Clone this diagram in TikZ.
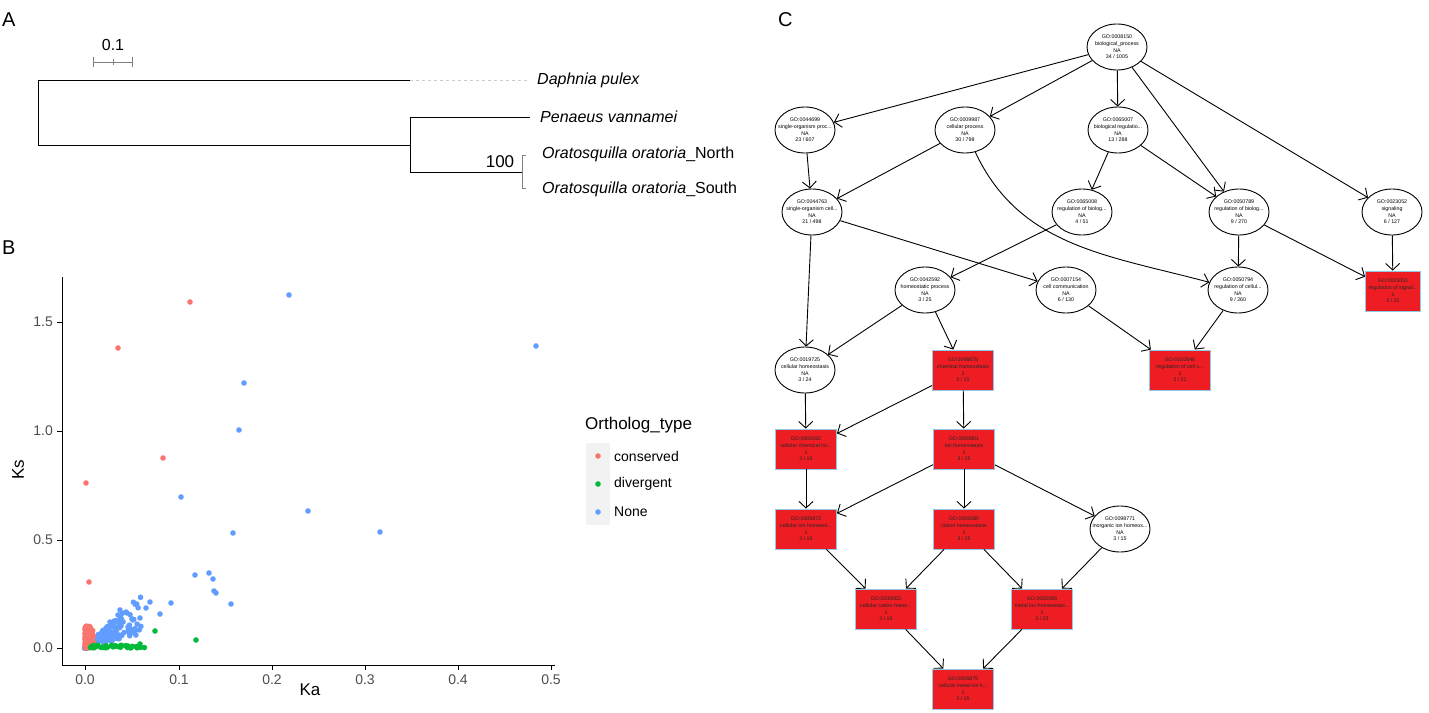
\documentclass[tikz,border=0pt]{standalone}
\usepackage{fontspec}
\setmainfont{Liberation Sans}
\usetikzlibrary{arrows.meta,shapes.geometric}
\definecolor{cred}{HTML}{F8766D}
\definecolor{cgreen}{HTML}{00BA38}
\definecolor{cblue}{HTML}{619CFF}
\definecolor{gored}{HTML}{EE1D23}
\definecolor{goblue}{HTML}{8EC9E6}
\definecolor{tickgray}{HTML}{4D4D4D}
\newcommand{\fsz}[1]{\fontsize{#1}{#1}\selectfont}
\tikzset{
  goell/.style={ellipse, draw, line width=0.9pt, minimum width=60pt, minimum height=46pt, inner xsep=-8pt, inner ysep=-6pt, align=center, font=\fontsize{5.3}{6.6}\selectfont},
  gorect/.style={rectangle, draw=goblue, fill=gored, line width=0.9pt, minimum width=61pt, minimum height=40pt, inner sep=0pt, align=center, text=black!85, font=\fontsize{5.3}{6.6}\selectfont},
  goarr/.style={line width=0.9pt, -{Straight Barb[length=6.5pt,width=14pt,line width=0.9pt]}},
  tree/.style={line width=1pt, black},
  tip/.style={font=\fsz{16}\itshape, anchor=west, inner sep=0pt},
  tick/.style={font=\fsz{14}, text=tickgray, inner sep=0pt},
  panel/.style={font=\fsz{20}, anchor=west, inner sep=0pt},
  dotr/.style={fill=cred, draw=none},
  dotg/.style={fill=cgreen, draw=none},
  dotb/.style={fill=cblue, draw=none},
}
\begin{document}
\begin{tikzpicture}[x=1pt,y=-1pt]
\useasboundingbox (0,0) rectangle (1429,712);
% ---------------- Panel A ----------------
\node[panel] (lA) at (2,20) {A};
\node[font=\fsz{16}, inner sep=0pt] (sc) at (113,45) {0.1};
\draw[gray, line width=1pt] (93,62) -- (132,62);
\draw[gray, line width=1pt] (93,57) -- (93,67) (132,57) -- (132,67) (113,59) -- (113,65);
\draw[tree] (38,80) -- (38,145);
\draw[tree] (38,80) -- (410,80);
\draw[gray!40, dashed, line width=0.6pt] (410,80) -- (530,80);
\draw[tree] (38,145) -- (410,145);
\draw[tree] (410,117) -- (410,172);
\draw[tree] (410,117) -- (530,117);
\draw[tree] (410,172) -- (522,172);
\draw[gray, line width=0.8pt] (522,155) -- (522,188);
\draw[gray, line width=0.8pt] (522,155) -- (526,155) (522,188) -- (526,188);
\node[tip] (t1) at (537,80) {Daphnia pulex};
\node[tip] (t2) at (540,117) {Penaeus vannamei};
\node[tip] (t3) at (542,154) {Oratosquilla oratoria\upshape\_North};
\node[tip] (t4) at (542,189) {Oratosquilla oratoria\upshape\_South};
\node[font=\fsz{17}, inner sep=0pt] (bs) at (500,162) {100};
% ---------------- Panel B ----------------
\node[panel] (lB) at (2,248) {B};
\draw[line width=0.9pt] (62,277) -- (62,665) -- (555,665);
\foreach \y/\l in {648/0.0, 540/0.5, 431/1.0, 322/1.5} {
  \draw[line width=0.9pt] (57,\y) -- (62,\y);
  \node[tick, anchor=east] at (53,\y) {\l};
}
\foreach \x/\l in {85/0.0, 179/0.1, 272/0.2, 365/0.3, 458/0.4, 551/0.5} {
  \draw[line width=0.9pt] (\x,665) -- (\x,670);
  \node[tick, anchor=north] at (\x,675) {\l};
}
\node[font=\fsz{17}] (xl) at (310,690) {Ka};
\node[font=\fsz{17}, rotate=90] (yl) at (18,470) {Ks};
% scatter clusters
\pgfmathsetseed{11}
\foreach \i in {1,...,160} {
  \pgfmathsetmacro\t{rnd^1.6}
  \pgfmathsetmacro\xx{85+56*\t+2*(rnd-0.5)}
  \pgfmathsetmacro\yy{648-45*\t*(0.3+0.9*rnd)}
  \fill[dotb] (\xx,\yy) circle (2.8);
}
\foreach \i in {1,...,70} {
  \pgfmathsetmacro\xx{85+9*rnd^2}
  \pgfmathsetmacro\yy{648-22*rnd}
  \fill[dotr] (\xx,\yy) circle (2.8);
}
\foreach \i in {1,...,35} {
  \pgfmathsetmacro\t{rnd}
  \pgfmathsetmacro\xx{90+55*\t}
  \pgfmathsetmacro\yy{648-3*rnd}
  \fill[dotg] (\xx,\yy) circle (2.8);
}
\foreach \p in {(190,302),(118,348),(163,458),(86,483),(89,582)} \fill[dotr] \p circle (2.8);
\foreach \p in {(155,631),(196,640),(128,646),(140,644)} \fill[dotg] \p circle (2.8);
\foreach \p in {(289,295),(536,346),(244,383),(239,430),(181,497),(308,511),(233,533),(380,532),(195,575),(209,573),(213,579),(214,591),(216,593),(150,602),(171,603),(231,604),(126,612),(120,610),(140,618),(133,620),(110,622),(128,627),(146,608),(160,614),(118,615)} \fill[dotb] \p circle (2.8);
% legend
\node[font=\fsz{17}, anchor=west, inner sep=0pt] (lt) at (585,425) {Ortholog\_type};
\fill[black!5] (586,443) rectangle (610,525);
\fill[dotr] (598,456) circle (2.8);
\fill[dotg] (598,484) circle (2.8);
\fill[dotb] (598,512) circle (2.8);
\node[font=\fsz{14}, anchor=west, inner sep=0pt] (le1) at (614,456) {conserved};
\node[font=\fsz{14}, anchor=west, inner sep=0pt] (le2) at (614,484) {divergent};
\node[font=\fsz{14}, anchor=west, inner sep=0pt] (le3) at (614,512) {None};
% ---------------- Panel C ----------------
\node[panel] (lC) at (778,20) {C};
\node[goell] (n1) at (1117,47) {GO:0008150\\biological\_process\\NA\\34 / 1005};
\node[goell] (n2) at (805,130) {GO:0044699\\single-organism proc...\\NA\\23 / 607};
\node[goell] (n3) at (965,130) {GO:0009987\\cellular process\\NA\\30 / 798};
\node[goell] (n4) at (1118,130) {GO:0065007\\biological regulatio...\\NA\\13 / 288};
\node[goell] (n5) at (812,212) {GO:0044763\\single-organism cell...\\NA\\21 / 498};
\node[goell] (n6) at (1082,212) {GO:0065008\\regulation of biolog...\\NA\\4 / 51};
\node[goell] (n7) at (1239,212) {GO:0050789\\regulation of biolog...\\NA\\9 / 270};
\node[goell] (n8) at (1392,212) {GO:0023052\\signaling\\NA\\6 / 127};
\node[goell] (n9) at (925,290) {GO:0042592\\homeostatic process\\NA\\3 / 25};
\node[goell] (n10) at (1066,290) {GO:0007154\\cell communication\\NA\\6 / 130};
\node[goell] (n11) at (1238,290) {GO:0050794\\regulation of cellul...\\NA\\9 / 260};
\node[gorect, minimum width=55pt] (n12) at (1393,291) {GO:0023051\\regulation of signal...\\1\\3 / 21};
\node[goell] (n13) at (805,370) {GO:0019725\\cellular homeostasis\\NA\\3 / 24};
\node[gorect] (n14) at (963,370) {GO:0048878\\chemical homeostasis\\1\\3 / 15};
\node[gorect] (n15) at (1180,370) {GO:0010646\\regulation of cell c...\\1\\3 / 21};
\node[gorect] (n16) at (806,449) {GO:0055082\\cellular chemical ho...\\1\\3 / 15};
\node[gorect] (n17) at (964,449) {GO:0050801\\ion homeostasis\\1\\3 / 15};
\node[gorect] (n18) at (806,529) {GO:0006873\\cellular ion homeost...\\1\\3 / 15};
\node[gorect] (n19) at (964,529) {GO:0055080\\cation homeostasis\\1\\3 / 15};
\node[goell] (n20) at (1120,529) {GO:0098771\\inorganic ion homeos...\\NA\\3 / 15};
\node[gorect] (n21) at (886,609) {GO:0030003\\cellular cation home...\\1\\3 / 15};
\node[gorect] (n22) at (1042,609) {GO:0055065\\metal ion homeostasi...\\1\\3 / 15};
\node[gorect] (n23) at (963,689) {GO:0006875\\cellular metal ion h...\\1\\3 / 15};
% edges
\draw[goarr] (n1) -- (n2);
\draw[goarr] (n1) -- (n3);
\draw[goarr] (n1) -- (n4);
\draw[goarr] (n1) -- (n7);
\draw[goarr] (n1) -- (n8);
\draw[goarr] (n2) -- (n5);
\draw[goarr] (n3) -- (n5);
\draw[goarr] (n3) to[out=-65, in=165] (n11);
\draw[goarr] (n4) -- (n6);
\draw[goarr] (n4) -- (n7);
\draw[goarr] (n5) -- (n10);
\draw[goarr] (n5) -- (n13);
\draw[goarr] (n6) -- (n9);
\draw[goarr] (n7) -- (n11);
\draw[goarr] (n7) -- (n12);
\draw[goarr] (n8) -- (n12);
\draw[goarr] (n9) -- (n13);
\draw[goarr] (n9) -- (n14);
\draw[goarr] (n10) -- (n15);
\draw[goarr] (n11) -- (n15);
\draw[goarr] (n13) -- (n16);
\draw[goarr] (n14) -- (n16);
\draw[goarr] (n14) -- (n17);
\draw[goarr] (n16) -- (n18);
\draw[goarr] (n17) -- (n18);
\draw[goarr] (n17) -- (n19);
\draw[goarr] (n17) -- (n20);
\draw[goarr] (n18) -- (n21);
\draw[goarr] (n19) -- (n21);
\draw[goarr] (n19) -- (n22);
\draw[goarr] (n20) -- (n22);
\draw[goarr] (n21) -- (n23);
\draw[goarr] (n22) -- (n23);
\end{tikzpicture}
\end{document}
